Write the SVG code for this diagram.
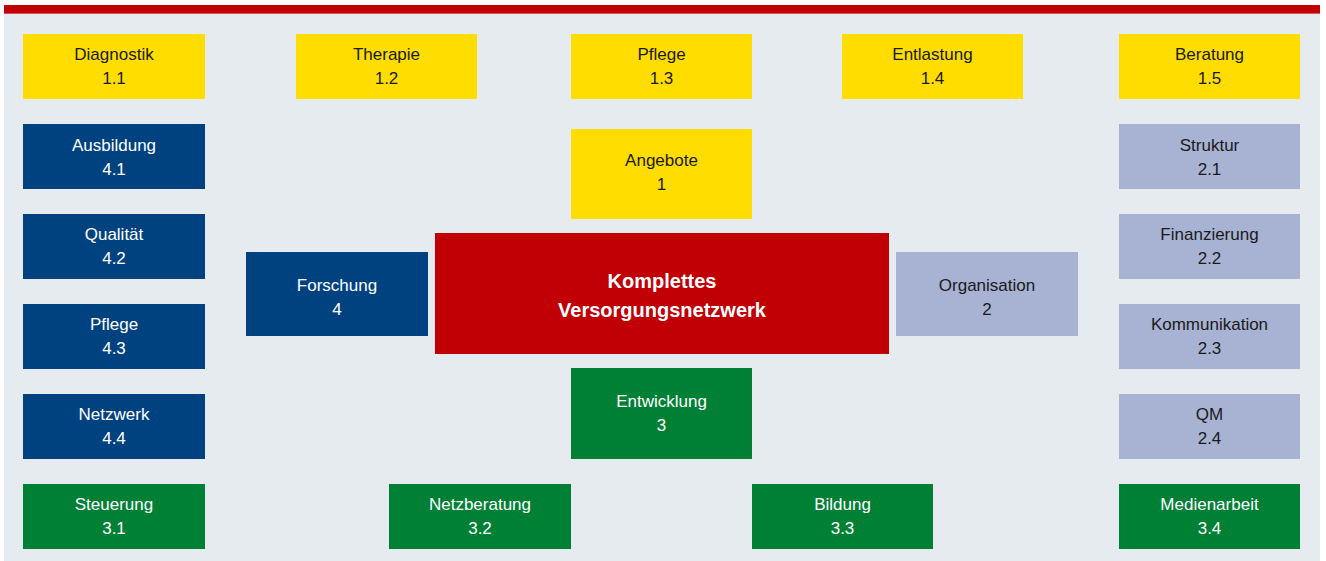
<svg xmlns="http://www.w3.org/2000/svg" width="1326" height="561" viewBox="0 0 1326 561">
<style>
text{font-family:"Liberation Sans",Arial,sans-serif;font-size:17px;text-anchor:middle}
.y rect{fill:#ffdd00}.y text{fill:#1a1a1a}
.b rect{fill:#00427f}.b text{fill:#ffffff}
.l rect{fill:#a8b2d2}.l text{fill:#1a1a1a}
.g rect{fill:#008035}.g text{fill:#ffffff}
.r rect{fill:#c00005}.r text{fill:#ffffff;font-weight:bold;font-size:20px}
</style>
<rect x="0" y="0" width="1326" height="561" fill="#ffffff"/>
<rect x="4" y="14" width="1316" height="547" fill="#e6ebf0"/>
<rect x="4" y="5" width="1316" height="9" fill="#c00005"/>
<rect x="4" y="13" width="1316" height="1" fill="#d9505a"/>
<g id="connectors"/>
<g id="n1_1" class="y"><rect x="23" y="34" width="182" height="65"/><text x="114" y="60">Diagnostik</text><text x="114" y="84">1.1</text></g>
<g id="n1_2" class="y"><rect x="296" y="34" width="181" height="65"/><text x="386.5" y="60">Therapie</text><text x="386.5" y="84">1.2</text></g>
<g id="n1_3" class="y"><rect x="571" y="34" width="181" height="65"/><text x="661.5" y="60">Pflege</text><text x="661.5" y="84">1.3</text></g>
<g id="n1_4" class="y"><rect x="842" y="34" width="181" height="65"/><text x="932.5" y="60">Entlastung</text><text x="932.5" y="84">1.4</text></g>
<g id="n1_5" class="y"><rect x="1119" y="34" width="181" height="65"/><text x="1209.5" y="60">Beratung</text><text x="1209.5" y="84">1.5</text></g>
<g id="n1" class="y"><rect x="571" y="129" width="181" height="90"/><text x="661.5" y="166">Angebote</text><text x="661.5" y="190">1</text></g>
<g id="n4_1" class="b"><rect x="23" y="124" width="182" height="65"/><text x="114" y="151">Ausbildung</text><text x="114" y="175">4.1</text></g>
<g id="n4_2" class="b"><rect x="23" y="214" width="182" height="65"/><text x="114" y="240">Qualität</text><text x="114" y="264">4.2</text></g>
<g id="n4_3" class="b"><rect x="23" y="304" width="182" height="65"/><text x="114" y="330">Pflege</text><text x="114" y="354">4.3</text></g>
<g id="n4_4" class="b"><rect x="23" y="394" width="182" height="65"/><text x="114" y="420">Netzwerk</text><text x="114" y="444">4.4</text></g>
<g id="n4" class="b"><rect x="246" y="252" width="182" height="84"/><text x="337" y="291">Forschung</text><text x="337" y="315">4</text></g>
<g id="n2_1" class="l"><rect x="1119" y="124" width="181" height="65"/><text x="1209.5" y="151">Struktur</text><text x="1209.5" y="175">2.1</text></g>
<g id="n2_2" class="l"><rect x="1119" y="214" width="181" height="65"/><text x="1209.5" y="240">Finanzierung</text><text x="1209.5" y="264">2.2</text></g>
<g id="n2_3" class="l"><rect x="1119" y="304" width="181" height="65"/><text x="1209.5" y="330">Kommunikation</text><text x="1209.5" y="354">2.3</text></g>
<g id="n2_4" class="l"><rect x="1119" y="394" width="181" height="65"/><text x="1209.5" y="420">QM</text><text x="1209.5" y="444">2.4</text></g>
<g id="n2" class="l"><rect x="896" y="252" width="182" height="84"/><text x="987" y="291">Organisation</text><text x="987" y="315">2</text></g>
<g id="center" class="r"><rect x="435" y="233" width="454" height="121"/><text x="662" y="288">Komplettes</text><text x="662" y="317">Versorgungsnetzwerk</text></g>
<g id="n3" class="g"><rect x="571" y="368" width="181" height="91"/><text x="661.5" y="407">Entwicklung</text><text x="661.5" y="431">3</text></g>
<g id="n3_1" class="g"><rect x="23" y="484" width="182" height="65"/><text x="114" y="510">Steuerung</text><text x="114" y="534">3.1</text></g>
<g id="n3_2" class="g"><rect x="389" y="484" width="182" height="65"/><text x="480" y="510">Netzberatung</text><text x="480" y="534">3.2</text></g>
<g id="n3_3" class="g"><rect x="752" y="484" width="181" height="65"/><text x="842.5" y="510">Bildung</text><text x="842.5" y="534">3.3</text></g>
<g id="n3_4" class="g"><rect x="1119" y="484" width="181" height="65"/><text x="1209.5" y="510">Medienarbeit</text><text x="1209.5" y="534">3.4</text></g>
</svg>
